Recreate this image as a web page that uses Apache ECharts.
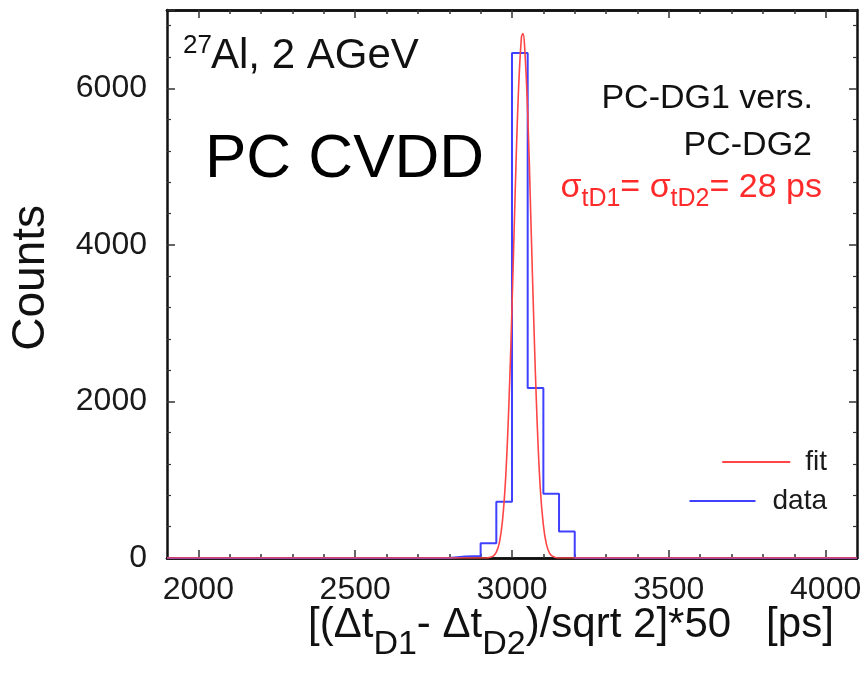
<!DOCTYPE html>
<html lang="en">
<head>
<meta charset="UTF-8">
<title>PC CVDD</title>
<script src="https://cdn.jsdelivr.net/npm/echarts@6/dist/echarts.min.js"></script>
</head>
<body style="margin:0;background:#fff">
<div id="container" style="width:867px;height:689px"></div>
<script>
// blue histogram: left bin edges and counts (last edge closes the histogram)
var histEdges = [1900, 2800, 2850, 2900, 2950, 3000, 3050, 3100, 3150, 3200, 4100];
var histCounts = [0, 20, 25, 190, 720, 6450, 2170, 820, 340, 0, 0];

// red fit curve
var fitX = [1900, 2920, 2930, 2940, 2950, 2960, 2970, 2980, 2990, 3000, 3010, 3020, 3030, 3035,
            3040, 3050, 3060, 3070, 3080, 3090, 3100, 3110, 3120, 3130, 3145, 4100];
var fitY = [0, 0, 10, 25, 75, 200, 490, 1040, 1950, 3200, 4650, 5900, 6650, 6700,
            6550, 5700, 4350, 2950, 1750, 900, 420, 170, 60, 20, 0, 0];

var xMajorTicks = [2000, 2500, 3000, 3500, 4000];
var xMinorTicks = [2100, 2200, 2300, 2400, 2600, 2700, 2800, 2900, 3100, 3200, 3300, 3400, 3600, 3700, 3800, 3900];
var yTickLabels = [0, 2000, 4000, 6000];

var FONT = 'Liberation Sans';

function pairs(xs, ys) {
    return xs.map(function (x, i) { return [x, ys[i]]; });
}

function plain(v) { return String(v); }

function xAxisPart(position, ticks, len, labels) {
    return {
        type: 'value', position: position, min: 1900, max: 4100,
        axisLine: { show: true, lineStyle: { color: '#111', width: 2.5 } },
        axisTick: { show: true, inside: true, length: len, customValues: ticks,
                    lineStyle: { color: '#333', width: 1.5 } },
        axisLabel: labels ? { show: true, customValues: labels, formatter: plain, fontSize: 32,
                              color: '#1a1a1a', margin: 16, fontFamily: FONT } : { show: false },
        splitLine: { show: false }
    };
}

function yAxisPart(position, labels) {
    return {
        type: 'value', position: position, min: 0, max: 7000, interval: 2000,
        axisLine: { show: true, lineStyle: { color: '#111', width: 2.5 } },
        axisTick: { show: true, inside: true, length: 8, lineStyle: { color: '#333', width: 1.5 } },
        minorTick: { show: true, splitNumber: 5, length: 4, lineStyle: { color: '#333', width: 1.2 } },
        axisLabel: labels ? { show: true, customValues: yTickLabels, formatter: plain, fontSize: 32,
                              color: '#1a1a1a', margin: 20, fontFamily: FONT } : { show: false },
        splitLine: { show: false }
    };
}

var chart = echarts.init(document.getElementById('container'), null, { renderer: 'canvas' });

var option = {
    backgroundColor: '#fff',
    animation: false,
    textStyle: { fontFamily: FONT },
    grid: { left: 167, right: 10, top: 10, bottom: 131 },
    xAxis: [
        xAxisPart('bottom', xMajorTicks, 8, xMajorTicks),
        xAxisPart('bottom', xMinorTicks, 4, null),
        xAxisPart('top', xMajorTicks, 8, null),
        xAxisPart('top', xMinorTicks, 4, null)
    ],
    yAxis: [yAxisPart('left', true), yAxisPart('right', false)],
    legend: [
        { data: ['fit'], right: 35, top: 443, icon: 'rect', itemWidth: 68, itemHeight: 2,
          selectedMode: false, textStyle: { fontSize: 28, color: '#1a1a1a', padding: [0, 0, 0, 10] } },
        { data: ['data'], right: 35, top: 482, icon: 'rect', itemWidth: 66, itemHeight: 2,
          selectedMode: false, textStyle: { fontSize: 28, color: '#1a1a1a', padding: [0, 0, 0, 12] } }
    ],
    series: [
        {
            name: 'data', type: 'line', step: 'end', showSymbol: false, z: 2,
            data: pairs(histEdges, histCounts),
            itemStyle: { color: '#4040ff' },
            lineStyle: { color: '#4040ff', width: 2 }
        },
        {
            name: 'fit', type: 'line', smooth: 0.4, showSymbol: false, z: 3,
            data: pairs(fitX, fitY),
            itemStyle: { color: '#ff4545' },
            lineStyle: { color: '#ff4545', width: 1.6 }
        }
    ],
    graphic: [
        { type: 'text', left: 183, top: 33, style: { text: '27', font: '26px "Liberation Sans"', fill: '#111' } },
        { type: 'text', left: 211, top: 35, style: { text: 'Al, 2 AGeV', font: '42px "Liberation Sans"', fill: '#111' } },
        { type: 'text', left: 205, top: 129, style: { text: 'PC CVDD', font: '62px "Liberation Sans"', fill: '#000' } },
        { type: 'text', right: 54, top: 82, style: { text: 'PC-DG1 vers.', font: '34px "Liberation Sans"', fill: '#111' } },
        { type: 'text', right: 55, top: 129, style: { text: 'PC-DG2', font: '34px "Liberation Sans"', fill: '#111' } },
        {
            type: 'text', right: 45, top: 171,
            style: {
                text: '{m|σ}{s|tD1}{m|= σ}{s|tD2}{m|= 28 ps}',
                fill: '#ff2a2a',
                rich: {
                    m: { fontSize: 34, lineHeight: 41, verticalAlign: 'top', fill: '#ff2a2a', fontFamily: FONT },
                    s: { fontSize: 25, verticalAlign: 'bottom', fill: '#ff2a2a', fontFamily: FONT }
                }
            }
        },
        {
            type: 'text', left: 308, top: 604,
            style: {
                text: '{m|[(Δt}{s|D1}{m|- Δt}{s|D2}{m|)/sqrt 2]*50   [ps]}',
                fill: '#111',
                rich: {
                    m: { fontSize: 42, lineHeight: 58, verticalAlign: 'top', fill: '#111', fontFamily: FONT },
                    s: { fontSize: 34, verticalAlign: 'bottom', fill: '#111', fontFamily: FONT }
                }
            }
        },
        {
            type: 'text', left: 8, top: 205, rotation: Math.PI / 2,
            style: { text: 'Counts', font: '46px "Liberation Sans"', fill: '#111' }
        }
    ]
};

chart.setOption(option);
window.addEventListener('resize', chart.resize);
</script>
</body>
</html>
